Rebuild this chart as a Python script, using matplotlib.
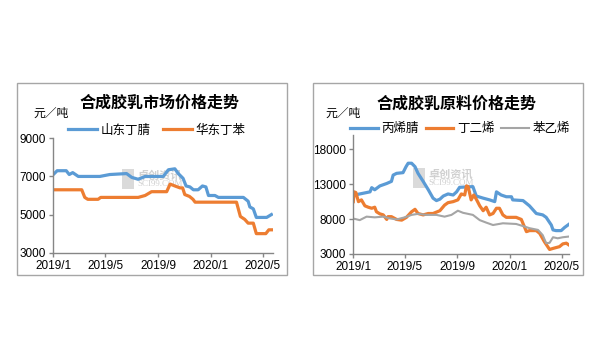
import pandas as pd
import matplotlib
matplotlib.use('Agg')
import matplotlib.pyplot as plt
from matplotlib.patches import Rectangle

plt.rcParams['font.family'] = ['Liberation Sans', 'Noto Sans CJK SC']

START = pd.Timestamp('2019-01-01')

# left chart: market prices (days counted from 2019-01-01)
nbr_days = [0, 9, 30, 37, 45, 58, 108, 131, 170, 182, 197, 213, 255, 267, 282, 290, 301,
            308, 317, 325, 336, 346, 354, 360, 375, 383, 441, 452, 456, 464, 471, 495, 506]
nbr_price = [7100, 7300, 7300, 7100, 7200, 7000, 7000, 7100, 7150, 6950, 6850, 7000, 7000,
             7350, 7400, 7150, 6900, 6500, 6450, 6300, 6300, 6500, 6450, 6000, 6000, 5900,
             5900, 5700, 5400, 5300, 4850, 4850, 5000]
sbr_days = [0, 66, 73, 80, 104, 110, 197, 213, 228, 263, 271, 282, 294, 300, 305, 316, 324,
            329, 425, 434, 444, 452, 464, 471, 493, 500, 509]
sbr_price = [6300, 6300, 5900, 5800, 5800, 5900, 5900, 6000, 6200, 6200, 6600, 6500, 6400,
             6400, 6050, 5950, 5800, 5650, 5650, 4900, 4750, 4550, 4550, 4000, 4000, 4200, 4200]

# right chart: raw material prices
an_days = [0, 4, 15, 39, 43, 50, 62, 78, 89, 93, 101, 116, 123, 128, 136, 144, 151, 163, 175,
           186, 194, 202, 210, 221, 233, 241, 248, 279, 287, 303, 318, 330, 334, 345, 357, 369,
           372, 396, 404, 411, 427, 442, 450, 462, 466, 473, 485, 493, 503]
an_price = [11300, 11450, 11600, 11900, 12500, 12200, 12750, 13100, 13400, 14300, 14550,
            14650, 15500, 16000, 16000, 15500, 14550, 13400, 12200, 11000, 10650, 10850,
            11300, 11600, 11450, 11900, 12550, 12650, 11300, 11000, 10750, 10500, 11900,
            11450, 11200, 11200, 10750, 10650, 10250, 9900, 8800, 8600, 8250, 7150, 6450,
            6350, 6350, 6800, 7250]
bd_days = [0, 2, 6, 12, 19, 27, 35, 43, 50, 54, 62, 70, 78, 81, 89, 101, 113, 124, 136, 144,
           151, 163, 175, 186, 202, 213, 221, 233, 244, 252, 260, 264, 268, 275, 281, 287,
           295, 303, 310, 318, 326, 334, 341, 349, 357, 380, 392, 404, 411, 427, 435, 446,
           458, 466, 481, 489, 497, 503]
bd_price = [10500, 11900, 11800, 10500, 10750, 9900, 9700, 9550, 9700, 9050, 8750, 8600,
            7950, 8350, 8350, 7950, 7850, 8250, 9050, 9400, 8800, 8600, 8800, 8800, 9200,
            10000, 10350, 10500, 10750, 11600, 11450, 12750, 12650, 10750, 11450, 10850,
            9900, 9200, 9700, 8600, 8800, 9550, 9550, 8600, 8250, 8250, 7950, 6200, 6350,
            6350, 5950, 4750, 3650, 3800, 4050, 4450, 4550, 4300]
sm_days = [0, 2, 15, 31, 50, 70, 85, 101, 120, 136, 151, 171, 194, 213, 229, 244, 256, 279,
           295, 310, 326, 349, 380, 396, 411, 431, 442, 450, 458, 466, 477, 489, 503]
sm_price = [8000, 8050, 7850, 8350, 8250, 8350, 8100, 7950, 8250, 8600, 8750, 8600, 8600,
            8350, 8600, 9200, 8900, 8600, 7850, 7500, 7150, 7400, 7300, 7000, 6700, 6450,
            5700, 4550, 4600, 5400, 5250, 5400, 5500]

tick_dates = ['2019-01-01', '2019-05-01', '2019-09-01', '2020-01-01', '2020-05-01']
tick_labels = ['2019/1', '2019/5', '2019/9', '2020/1', '2020/5']

BLUE = '#5b9bd5'
ORANGE = '#ed7d31'
GREY = '#a5a5a5'
AXIS = '#868686'
W, H = 600, 359


def to_dates(days):
    return START + pd.to_timedelta(days, unit='D')


def fx(px):
    return px / W


def fy(py):
    return 1 - py / H


def add_frame(fig, x0, x1, y0, y1):
    fig.patches.append(Rectangle((fx(x0), fy(y1)), fx(x1 - x0), (y1 - y0) / H,
                                 transform=fig.transFigure, fill=False,
                                 edgecolor='#a6a6a6', lw=1))


def style_axis(ax, ylim, yticks, xend):
    ax.set_ylim(ylim)
    ax.set_yticks(yticks)
    ax.set_xlim(START, START + pd.Timedelta(days=xend))
    ax.set_xticks(pd.to_datetime(tick_dates))
    ax.set_xticklabels(tick_labels)
    for s in ['top', 'right']:
        ax.spines[s].set_visible(False)
    for s in ['left', 'bottom']:
        ax.spines[s].set_color(AXIS)
        ax.spines[s].set_linewidth(1)
    ax.tick_params(direction='out', length=3, width=1, color=AXIS,
                   labelsize=8.5, pad=2, labelcolor='black')
    ax.set_facecolor('none')


def add_watermark(fig, x, y):
    # logo block and site name behind the lines
    fig.patches.append(Rectangle((fx(x), fy(y + 20)), fx(12), 20 / H,
                                 transform=fig.transFigure, color='#dadada', lw=0,
                                 zorder=-2))
    fig.text(fx(x + 15), fy(y + 6), '卓创资讯', fontsize=8, color='#d0d0d0',
             ha='left', va='center', family=['Noto Sans CJK SC'], weight='bold',
             zorder=-2)
    fig.text(fx(x + 15), fy(y + 15), 'SCI99.COM', fontsize=6.5, color='#d0d0d0',
             ha='left', va='center', family=['Liberation Serif'], zorder=-2)


fig = plt.figure(figsize=(6, 3.59), dpi=100)

add_frame(fig, 17.3, 287.3, 83.3, 275)
add_frame(fig, 312.7, 582.7, 83.3, 275)
add_watermark(fig, 122, 169)
add_watermark(fig, 413, 168)

# left panel
ax1 = fig.add_axes([fx(53.3), fy(252.7), fx(272.7 - 53.3), (252.7 - 138.3) / H])
l1, = ax1.plot(to_dates(nbr_days), nbr_price, color=BLUE, lw=2.3, label='山东丁腈')
l2, = ax1.plot(to_dates(sbr_days), sbr_price, color=ORANGE, lw=2.3, label='华东丁苯')
style_axis(ax1, (3000, 9000), [3000, 5000, 7000, 9000], 509)
fig.legend(handles=[l1, l2], loc='center left', bbox_to_anchor=(fx(68), fy(130.7)),
           ncol=2, frameon=False, fontsize=9, handlelength=2.3, handletextpad=0.3,
           columnspacing=1.0, borderpad=0, borderaxespad=0)
fig.text(fx(159), fy(103), '合成胶乳市场价格走势', ha='center', va='center',
         fontsize=11.5, weight='bold', family=['Noto Sans CJK SC'])
fig.text(fx(33), fy(113), '元／吨', ha='left', va='center', fontsize=8.5,
         family=['Noto Sans CJK SC'])

# right panel
ax2 = fig.add_axes([fx(353.3), fy(254), fx(569.3 - 353.3), (254 - 135.3) / H])
r1, = ax2.plot(to_dates(an_days), an_price, color=BLUE, lw=2.3, label='丙烯腈')
r2, = ax2.plot(to_dates(bd_days), bd_price, color=ORANGE, lw=2.3, label='丁二烯')
r3, = ax2.plot(to_dates(sm_days), sm_price, color=GREY, lw=1.5, label='苯乙烯')
style_axis(ax2, (3000, 20000), [3000, 8000, 13000, 18000], 504)
fig.legend(handles=[r1, r2, r3], loc='center left', bbox_to_anchor=(fx(350), fy(129.3)),
           ncol=3, frameon=False, fontsize=9, handlelength=2.2, handletextpad=0.3,
           columnspacing=0.55, borderpad=0, borderaxespad=0)
fig.text(fx(456.7), fy(104), '合成胶乳原料价格走势', ha='center', va='center',
         fontsize=11.5, weight='bold', family=['Noto Sans CJK SC'])
fig.text(fx(325), fy(113), '元／吨', ha='left', va='center', fontsize=8.5,
         family=['Noto Sans CJK SC'])

fig.savefig('out.png', dpi=100)
